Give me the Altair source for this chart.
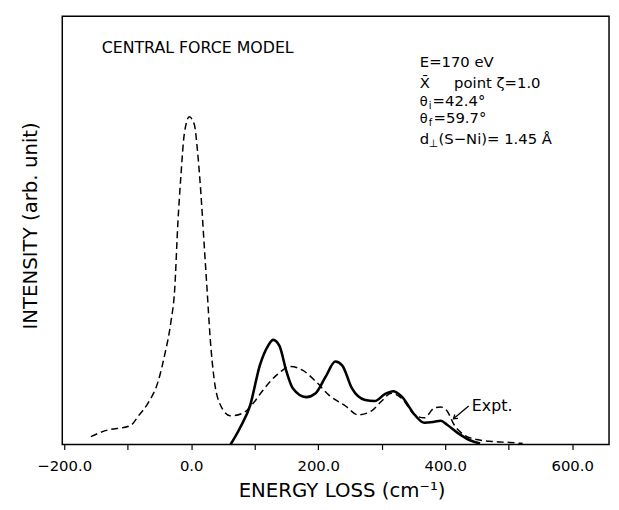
import altair as alt
import pandas as pd

# ---- data ----
expt_x = [-158, -135, -96, -83, -68, -52, -42, -32, -26, -21, -16, -11, -3, 5, 10, 15, 20, 25, 30, 36,
          46, 62, 82, 98, 113, 134, 157, 176, 196, 217, 243, 263, 284, 300, 315, 331, 352, 367, 383,
          393, 403, 414, 429, 450, 476, 502, 522]
expt_y = [8, 14, 19, 29, 42, 64, 90, 124, 157, 224, 274, 314, 332, 324, 297, 257, 207, 157, 107, 67,
          40, 29, 32, 42, 55, 70, 79, 75, 64, 50, 39, 30, 34, 44, 52, 47, 30, 27, 37,
          38, 34, 20, 10, 5, 3, 2, 1]

model_x = [62, 77, 93, 108, 121, 129, 139, 150, 160, 181, 196, 212, 227, 238, 253, 274, 289, 305,
           318, 331, 352, 367, 383, 393, 403, 419, 440, 455]
model_y = [0, 17, 40, 80, 100, 106, 100, 74, 57, 48, 52, 69, 84, 80, 57, 45, 44, 51,
           54, 49, 30, 22, 23, 24, 20, 12, 4, 1]

x_ticks = [-200, -100, 0, 100, 200, 300, 400, 500, 600]
X_DOMAIN = [-203, 658]
Y_DOMAIN = [0, 434]

FONT = "DejaVu Sans"

x_axis = alt.Axis(
    values=x_ticks,
    labelExpr="datum.value % 200 == 0 ? format(datum.value, '.1f') : ''",
    labelOverlap=False,
    labelFont=FONT, labelFontSize=15, labelColor="black", labelPadding=9,
    ticks=True, tickSize=5, tickColor="black", tickWidth=1.2,
    domain=False, grid=False,
    title="ENERGY LOSS (cm⁻¹)", titleFont=FONT, titleFontSize=20, titleFontWeight="normal",
    titleColor="black", titleX=283, titleY=53, titleAlign="center", titleBaseline="alphabetic",
)
y_axis = alt.Axis(
    labels=False, ticks=False, domain=False, grid=False,
    title="INTENSITY (arb. unit)", titleFont=FONT, titleFontSize=20, titleFontWeight="normal",
    titleColor="black", titleX=-26, titleY=212, titleAngle=270, titleAlign="center",
    titleBaseline="alphabetic",
)


def X(field="x"):
    return alt.X(f"{field}:Q", scale=alt.Scale(domain=X_DOMAIN, nice=False, zero=False), axis=x_axis)


def Y(field="y"):
    return alt.Y(f"{field}:Q", scale=alt.Scale(domain=Y_DOMAIN, nice=False, zero=False), axis=y_axis)


expt_df = pd.DataFrame({"x": expt_x, "y": expt_y})
model_df = pd.DataFrame({"x": model_x, "y": model_y})

expt_line = alt.Chart(expt_df).mark_line(
    color="black", strokeWidth=1.5, strokeDash=[7, 4], interpolate="monotone"
).encode(x=X(), y=Y())

model_line = alt.Chart(model_df).mark_line(
    color="black", strokeWidth=2.6, interpolate="monotone"
).encode(x=X(), y=Y())

# arrow pointing from the "Expt." label to the dashed curve
arrow_df = pd.DataFrame({"x": [437], "y": [39], "x2": [413], "y2": [26]})
arrow_line = alt.Chart(arrow_df).mark_rule(color="black", strokeWidth=1.3).encode(
    x=X(), y=Y(), x2=alt.X2("x2:Q"), y2=alt.Y2("y2:Q")
)
head_df = pd.DataFrame({"x": [413], "y": [26]})
arrow_head = alt.Chart(head_df).mark_point(
    shape="M-0.8,1.2L0,0L0.8,1.2", filled=False, color="black", strokeWidth=1.3,
    size=40, angle=231, opacity=1
).encode(x=X(), y=Y())


def label(text, x, y, size=15, dx=0, dy=0):
    df = pd.DataFrame({"x": [x], "y": [y], "t": [text]})
    return alt.Chart(df).mark_text(
        font=FONT, fontSize=size, color="black", align="left", baseline="alphabetic", dx=dx, dy=dy
    ).encode(x=X(), y=Y(), text="t:N")


texts = [
    label("CENTRAL FORCE MODEL", -141, 397, size=16),
    label("E=170 eV", 360, 382),
    label("X̄", 360, 361),
    label("point  ζ=1.0", 414, 361),
    label("θ", 360, 343, size=13),
    label("i", 360, 343, size=10, dx=9, dy=3),
    label("=42.4°", 360, 343, dx=13),
    label("θ", 360, 326, size=13),
    label("f", 360, 326, size=10, dx=9, dy=3),
    label("=59.7°", 360, 326, dx=14),
    label("d", 360, 304),
    label("⊥", 360, 304, size=11, dx=9, dy=3),
    label("(S−Ni)= 1.45  Å", 360, 304, dx=19),
    label("Expt.", 442, 34, size=16),
]

chart = alt.layer(expt_line, model_line, arrow_line, arrow_head, *texts).properties(
    width=554, height=434,
    padding={"left": 55, "top": 5, "right": 2, "bottom": 55},
    autosize=alt.AutoSizeParams(type="none"),
).configure_view(stroke="black", strokeWidth=1.5).configure_axis(grid=False)

chart.save("out.html", embed_options={"renderer": "svg", "actions": False})
